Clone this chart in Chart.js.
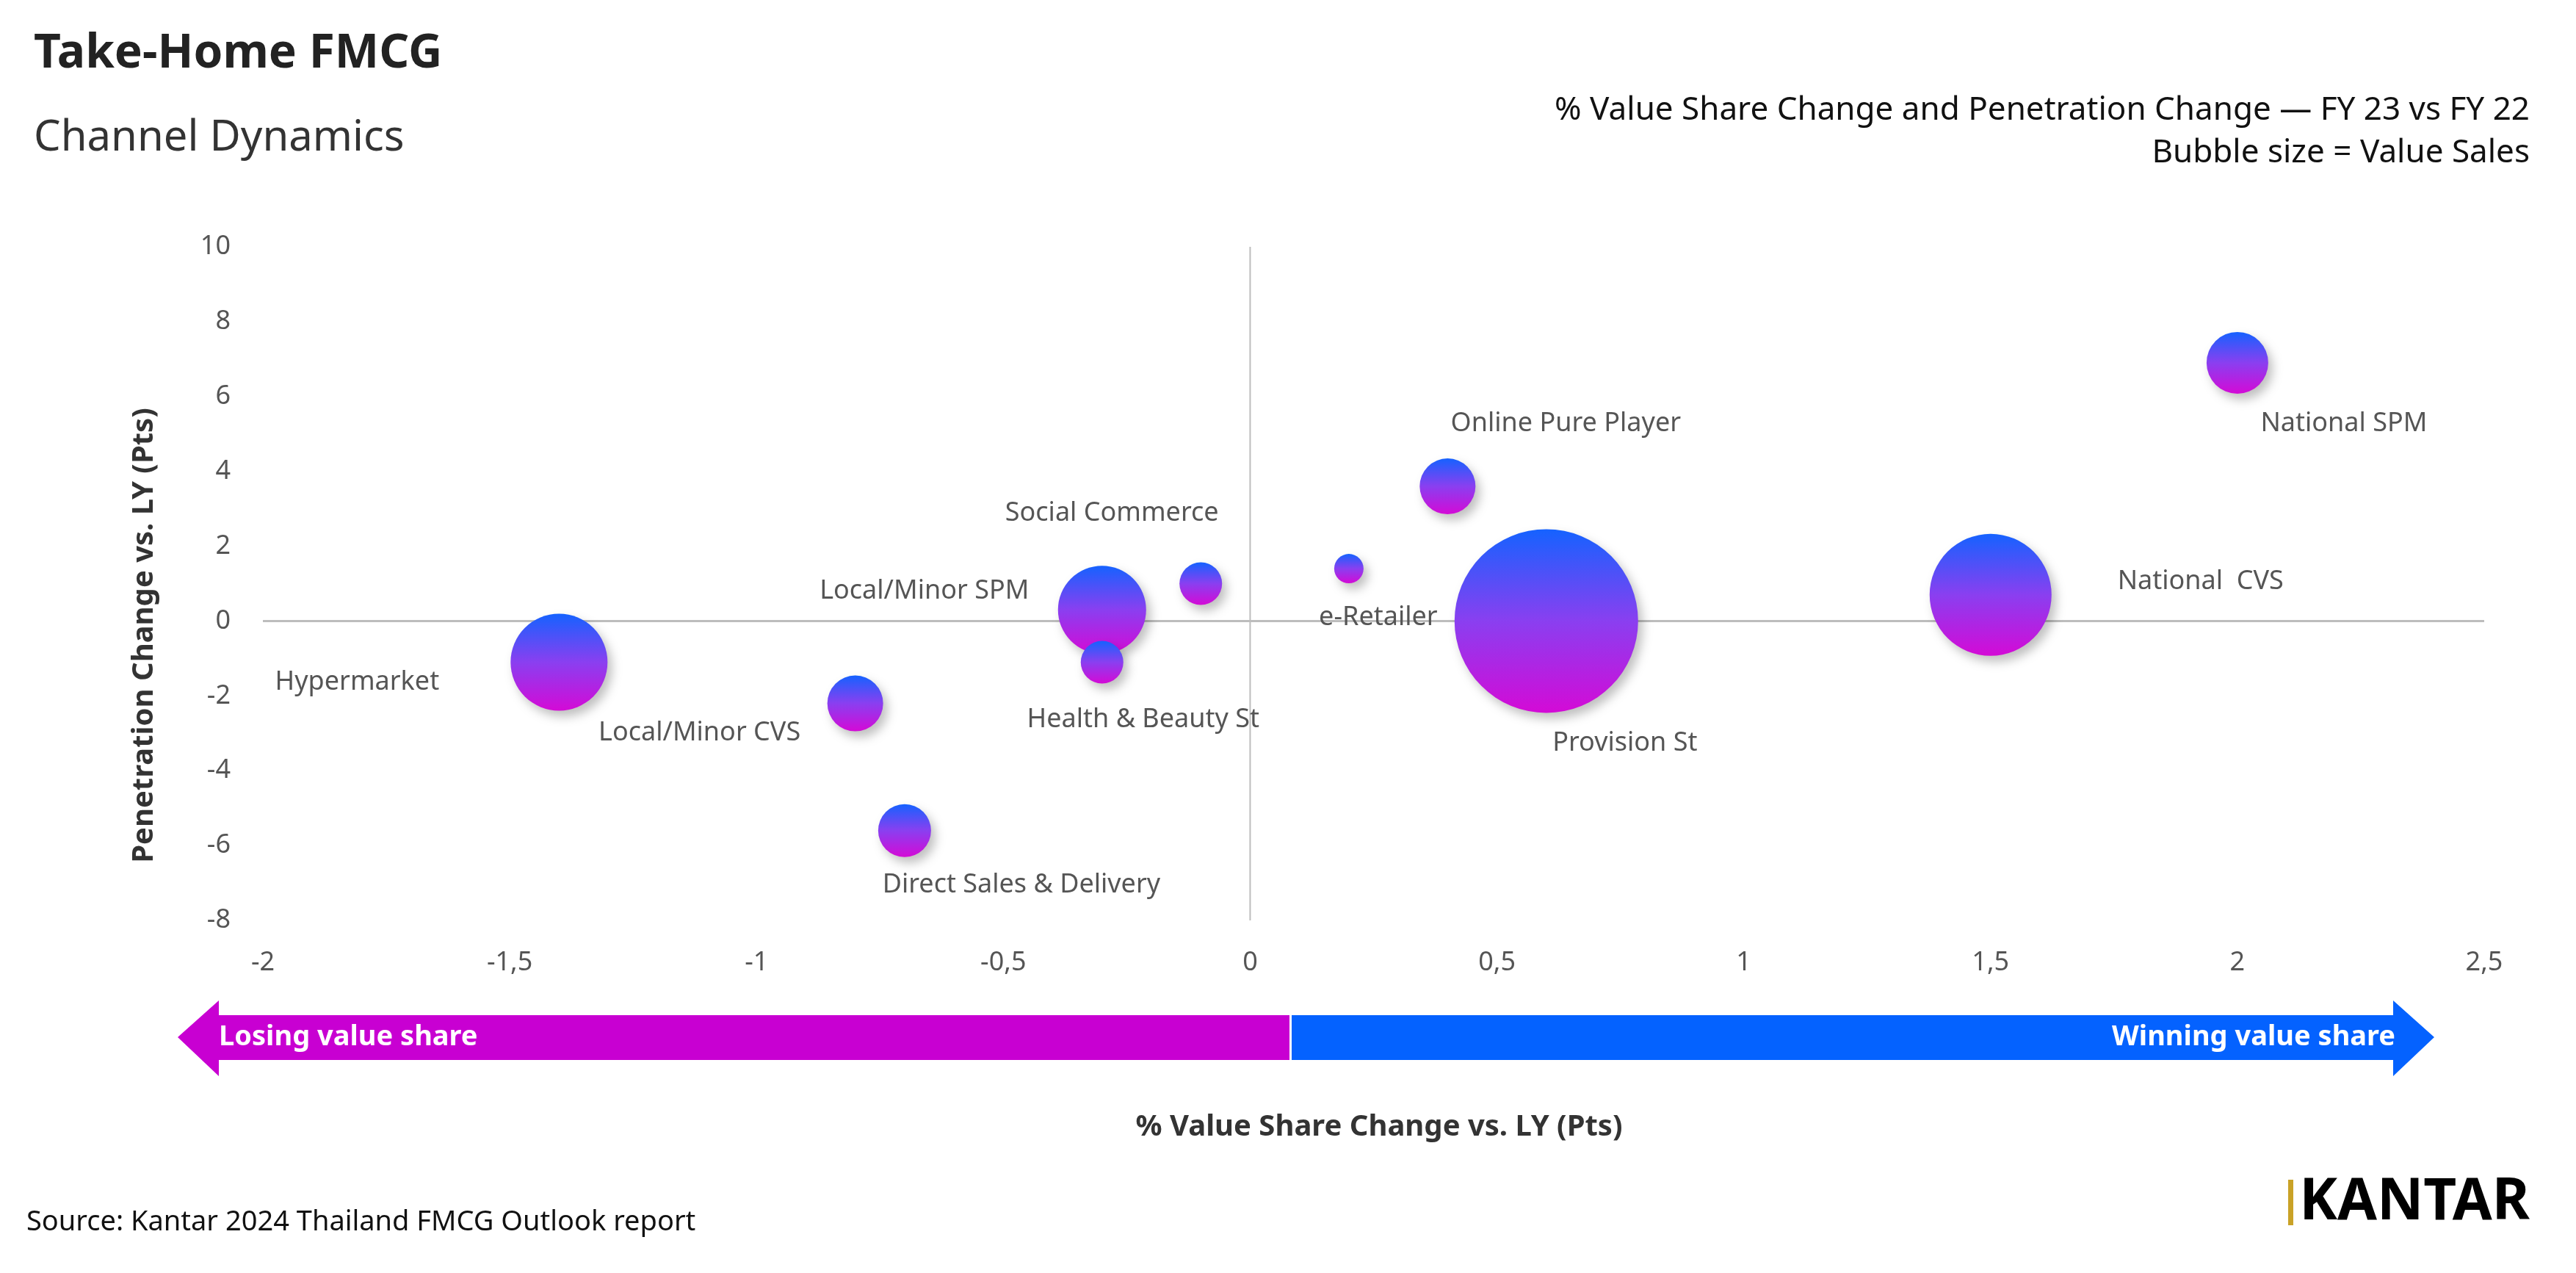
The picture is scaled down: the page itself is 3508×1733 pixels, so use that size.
<!DOCTYPE html>
<html>
<head>
<meta charset="utf-8">
<script src="https://cdn.jsdelivr.net/npm/chart.js@4"></script>
<style>
  html, body { margin: 0; padding: 0; background: #fff; }
  #wrap { width: 3508px; height: 1733px; }
</style>
</head>
<body>
<div id="wrap"><canvas id="chart"></canvas></div>
<script>
// Channel data
const channels = ['Hypermarket', 'Local/Minor CVS', 'Direct Sales & Delivery', 'Local/Minor SPM',
    'Health & Beauty St', 'Social Commerce', 'e-Retailer', 'Online Pure Player',
    'Provision St', 'National  CVS', 'National SPM'];
const shareChange = [-1.4, -0.8, -0.7, -0.3, -0.3, -0.1, 0.2, 0.4, 0.6, 1.5, 2.0];
const penetrationChange = [-1.1, -2.2, -5.6, 0.3, -1.1, 1.0, 1.4, 3.6, 0.0, 0.7, 6.9];
const bubbleRadius = [66, 38, 36, 60, 29, 29, 20, 38, 125, 83, 42];
const xTicks = [-2, -1.5, -1, -0.5, 0, 0.5, 1, 1.5, 2, 2.5];
const yTicks = [-8, -6, -4, -2, 0, 2, 4, 6, 8, 10];

// label offsets from bubble centre (px)
const labelOffsets = [[-275, 27], [-212, 40], [159, 74], [-242, -25], [56, 78], [-121, -96],
    [40, 67], [161, -85], [107, 166], [286, -18], [145, 83]];

const FONT = '"Noto Sans", "Open Sans", sans-serif';

function bubbleGradient(context) {
    const chart = context.chart;
    const raw = context.raw;
    if (!raw || !chart.chartArea) return '#7a3cf0';
    const cy = chart.scales.y.getPixelForValue(raw.y);
    const g = chart.ctx.createLinearGradient(0, cy - raw.r, 0, cy + raw.r);
    g.addColorStop(0, '#1562ff');
    g.addColorStop(0.5, '#8a3ff0');
    g.addColorStop(1, '#d40ad6');
    return g;
}

const decorPlugin = {
    id: 'decor',
    beforeDatasetsDraw(chart) {
        const { ctx, chartArea: a, scales } = chart;
        ctx.save();
        ctx.strokeStyle = '#bdbdbd';
        ctx.lineWidth = 3;
        const y0 = scales.y.getPixelForValue(0);
        ctx.beginPath(); ctx.moveTo(a.left, y0); ctx.lineTo(a.right, y0); ctx.stroke();
        ctx.lineWidth = 2;
        const x0 = scales.x.getPixelForValue(0);
        ctx.beginPath(); ctx.moveTo(x0, a.top); ctx.lineTo(x0, a.bottom); ctx.stroke();
        ctx.restore();
    },
    beforeDatasetDraw(chart) {
        chart.ctx.save();
        chart.ctx.shadowColor = 'rgba(0,0,0,0.25)';
        chart.ctx.shadowBlur = 14;
        chart.ctx.shadowOffsetX = 6;
        chart.ctx.shadowOffsetY = 8;
    },
    afterDatasetDraw(chart) {
        chart.ctx.restore();
    },
    afterDraw(chart) {
        const { ctx, scales } = chart;
        ctx.save();
        // point labels
        ctx.font = '36px ' + FONT;
        ctx.fillStyle = '#555';
        ctx.textAlign = 'center';
        ctx.textBaseline = 'middle';
        channels.forEach((name, i) => {
            const px = scales.x.getPixelForValue(shareChange[i]);
            const py = scales.y.getPixelForValue(penetrationChange[i]);
            ctx.fillText(name, px + labelOffsets[i][0], py + labelOffsets[i][1]);
        });

        // titles
        ctx.textAlign = 'left';
        ctx.fillStyle = '#222';
        ctx.font = 'bold 64px ' + FONT;
        ctx.fillText('Take-Home FMCG', 46, 74);
        ctx.fillStyle = '#333';
        ctx.font = '58px ' + FONT;
        ctx.fillText('Channel Dynamics', 46, 188);
        ctx.textAlign = 'right';
        ctx.fillStyle = '#111';
        ctx.font = '44px ' + FONT;
        ctx.fillText('% Value Share Change and Penetration Change \u2014 FY 23 vs FY 22', 3445, 150);
        ctx.fillText('Bubble size = Value Sales', 3445, 208);

        // axis titles
        ctx.fillStyle = '#333';
        ctx.font = 'bold 40px ' + FONT;
        ctx.textAlign = 'center';
        ctx.fillText('% Value Share Change vs. LY (Pts)', 1878, 1535);
        ctx.save();
        ctx.translate(197, 865);
        ctx.rotate(-Math.PI / 2);
        ctx.fillText('Penetration Change vs. LY (Pts)', 0, 0);
        ctx.restore();

        // arrow
        const L = 242, R = 3315, split = 1756, head = 56;
        const sTop = 1382, sBot = 1443, hTop = 1362, hBot = 1465, mid = 1412;
        ctx.fillStyle = '#c800d2';
        ctx.beginPath();
        ctx.moveTo(L, mid); ctx.lineTo(L + head, hTop); ctx.lineTo(L + head, sTop);
        ctx.lineTo(split, sTop); ctx.lineTo(split, sBot); ctx.lineTo(L + head, sBot);
        ctx.lineTo(L + head, hBot); ctx.closePath(); ctx.fill();
        ctx.fillStyle = '#0462ff';
        ctx.beginPath();
        ctx.moveTo(R, mid); ctx.lineTo(R - head, hTop); ctx.lineTo(R - head, sTop);
        ctx.lineTo(split + 3, sTop); ctx.lineTo(split + 3, sBot); ctx.lineTo(R - head, sBot);
        ctx.lineTo(R - head, hBot); ctx.closePath(); ctx.fill();
        ctx.fillStyle = '#fff';
        ctx.font = 'bold 38px ' + FONT;
        ctx.textAlign = 'left';
        ctx.fillText('Losing value share', 298, mid);
        ctx.textAlign = 'right';
        ctx.fillText('Winning value share', 3262, mid);

        // source and logo
        ctx.fillStyle = '#111';
        ctx.font = '38px ' + FONT;
        ctx.textAlign = 'left';
        ctx.fillText('Source: Kantar 2024 Thailand FMCG Outlook report', 36, 1664);
        ctx.fillStyle = '#c9a227';
        ctx.fillRect(3116, 1606, 7, 62);
        ctx.fillStyle = '#000';
        ctx.font = 'bold 78px ' + FONT;
        ctx.textAlign = 'right';
        ctx.fillText('KANTAR', 3445, 1638);
        ctx.restore();
    }
};

const tickFont = { size: 36, family: FONT };

new Chart(document.getElementById('chart'), {
    type: 'bubble',
    data: {
        datasets: [{
            data: channels.map((c, i) => ({ x: shareChange[i], y: penetrationChange[i], r: bubbleRadius[i] })),
            backgroundColor: bubbleGradient,
            borderWidth: 0,
            hoverRadius: 0
        }]
    },
    options: {
        responsive: true,
        maintainAspectRatio: false,
        animation: false,
        layout: { padding: { left: 258, right: 81, top: 336, bottom: 380 } },
        plugins: { legend: { display: false }, tooltip: { enabled: false } },
        scales: {
            x: {
                min: -2, max: 2.5,
                afterFit(scale) { scale.height = 100; },
                afterBuildTicks(scale) { scale.ticks = xTicks.map(v => ({ value: v })); },
                grid: { display: false },
                border: { display: false },
                ticks: {
                    color: '#555', font: tickFont, padding: 28, maxRotation: 0,
                    callback: v => String(v).replace('.', ',')
                }
            },
            y: {
                min: -8, max: 10,
                afterFit(scale) { scale.width = 100; },
                afterBuildTicks(scale) { scale.ticks = yTicks.map(v => ({ value: v })); },
                grid: { display: false },
                border: { display: false },
                ticks: { color: '#555', font: tickFont, padding: 36 }
            }
        }
    },
    plugins: [decorPlugin]
});
</script>
</body>
</html>
